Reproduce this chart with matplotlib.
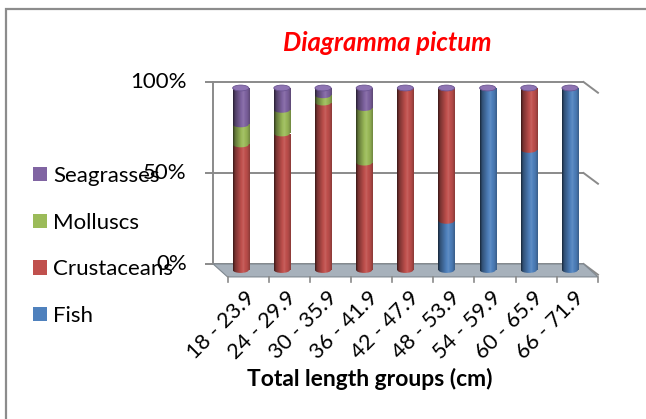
import numpy as np
import matplotlib.pyplot as plt
from matplotlib.patches import Rectangle, Ellipse, Polygon, Patch

plt.rcParams['font.family'] = ['Lato', 'DejaVu Sans']

# Datos: composición de la dieta por grupo de talla (%)
grupos = ['18 - 23.9', '24 - 29.9', '30 - 35.9', '36 - 41.9', '42 - 47.9',
          '48 - 53.9', '54 - 59.9', '60 - 65.9', '66 - 71.9']
fish = [0, 0, 0, 0, 0, 27, 100, 66, 100]
crustaceans = [69, 75, 92, 59, 100, 73, 0, 34, 0]
molluscs = [11, 13, 4, 30, 0, 0, 0, 0, 0]
seagrasses = [20, 12, 4, 11, 0, 0, 0, 0, 0]

series = [('Fish', fish, '#4F81BD'),
          ('Crustaceans', crustaceans, '#C0504D'),
          ('Molluscs', molluscs, '#9BBB59'),
          ('Seagrasses', seagrasses, '#8064A2')]

W, H = 646, 419
fig = plt.figure(figsize=(W / 100, H / 100), dpi=100)

# escala del grafico en pixeles
x0_px, paso, y0_px, esc = 240.7, 41.16, 270, 1.82
xlim, ylim = (-1.6, 9.2), (-22, 112)
izq = x0_px + xlim[0] * paso
abajo = H - (y0_px - ylim[0] * esc)
ax = fig.add_axes([izq / W, abajo / H, (xlim[1] - xlim[0]) * paso / W,
                   (ylim[1] - ylim[0]) * esc / H])
ax.set_xlim(*xlim)
ax.set_ylim(*ylim)
ax.axis('off')

# borde del area del grafico
fig.patches.append(Rectangle((6 / W, -0.1), 2, (H - 9.5) / H + 0.1,
                             transform=fig.transFigure, fill=False,
                             edgecolor='#8c8c8c', lw=1.6))

# profundidad del efecto 3D (unidades de datos)
dx_atras, dy_atras = -0.17, 3.3
dx_frente, dy_frente = 0.18, -3.8
gris = '#8a8a8a'

# suelo
suelo = Polygon([(-0.5 + dx_atras, dy_atras), (8.5 + dx_atras, dy_atras),
                 (8.5 + dx_frente, dy_frente), (-0.5 + dx_frente, dy_frente)],
                closed=True, facecolor='#A7B1BB', edgecolor='#7f8890', lw=0.8,
                zorder=1)
ax.add_patch(suelo)

# lineas de division en la pared del fondo
for v in [0, 50, 100]:
    yb = v + dy_atras
    ax.plot([-0.5 + dx_atras - 0.19, 8.5 + dx_atras], [yb, yb], color=gris,
            lw=1.4, zorder=0.5, solid_capstyle='butt')
    ax.plot([8.5 + dx_atras, 8.5 + dx_frente], [yb, v + dy_frente + 1.2],
            color=gris, lw=1.4, zorder=0.5)
    ax.text(-1.31, yb, f'{v}%', ha='right', va='center', fontsize=16,
            color='black', zorder=6)
ax.plot([-0.5 + dx_atras] * 2, [dy_atras, 100 + dy_atras], color=gris, lw=1.4,
        zorder=0.5)

# marcas del eje x en el borde frontal
for k in range(10):
    xk = -0.5 + k + dx_frente
    ax.plot([xk, xk], [dy_frente, dy_frente - 2.6], color=gris, lw=1.2, zorder=1)
for i, g in enumerate(grupos):
    ax.text(i + 0.26, -13.5, g, rotation=45, rotation_mode='anchor',
            ha='right', va='center', fontsize=15.5)


def degradado(color, n=64):
    base = np.array(plt.matplotlib.colors.to_rgb(color))
    t = np.linspace(0, 1, n)
    f = np.interp(t, [0, 0.12, 0.5, 0.62, 0.85, 1], [0.3, 0.62, 1.0, 1.05, 0.92, 0.72])
    rgb = np.where(f[:, None] <= 1, base * f[:, None],
                   base + (1 - base) * (f[:, None] - 1) * 2)
    return np.clip(rgb, 0, 1)[None, :, :]


ancho = 0.39
alto_elipse = 3.2
for i in range(len(grupos)):
    base = 0
    for nombre, vals, color in series:
        v = vals[i]
        if v <= 0:
            continue
        x1 = i - ancho / 2
        rect = Rectangle((x1, base), ancho, v, facecolor='none', edgecolor='none')
        elip = Ellipse((i, base), ancho, alto_elipse, facecolor='none',
                       edgecolor='none')
        ax.add_patch(rect)
        ax.add_patch(elip)
        grad = degradado(color)
        for forma in (rect, elip):
            im = ax.imshow(grad, extent=[x1, x1 + ancho, base - alto_elipse,
                                         base + v], aspect='auto',
                           interpolation='bilinear', zorder=2)
            im.set_clip_path(forma)
        base += v
    # tapa superior del cilindro
    ax.add_patch(Ellipse((i, base), ancho, alto_elipse, facecolor='#8E74B3',
                         edgecolor='#6B5490', lw=0.6, zorder=3))

ax.set_xlim(*xlim)
ax.set_ylim(*ylim)

fig.text(387 / W, 1 - 43 / H, 'Diagramma pictum', color='#FF0000',
         fontsize=18.5, fontweight='bold', fontstyle='italic',
         ha='center', va='center')
fig.text(370 / W, 1 - 379 / H, 'Total length groups (cm)', fontsize=16.5,
         fontweight='bold', ha='center', va='center')

manijas = [Patch(facecolor=c, label=n) for n, _, c in reversed(series)]
fig.legend(handles=manijas, loc='upper left', bbox_to_anchor=(33 / W, 1 - 166 / H),
           frameon=False, fontsize=16, handlelength=0.62, handleheight=0.62,
           handletextpad=0.3, labelspacing=1.2, borderpad=0, borderaxespad=0)

fig.savefig('out.png', dpi=100)
